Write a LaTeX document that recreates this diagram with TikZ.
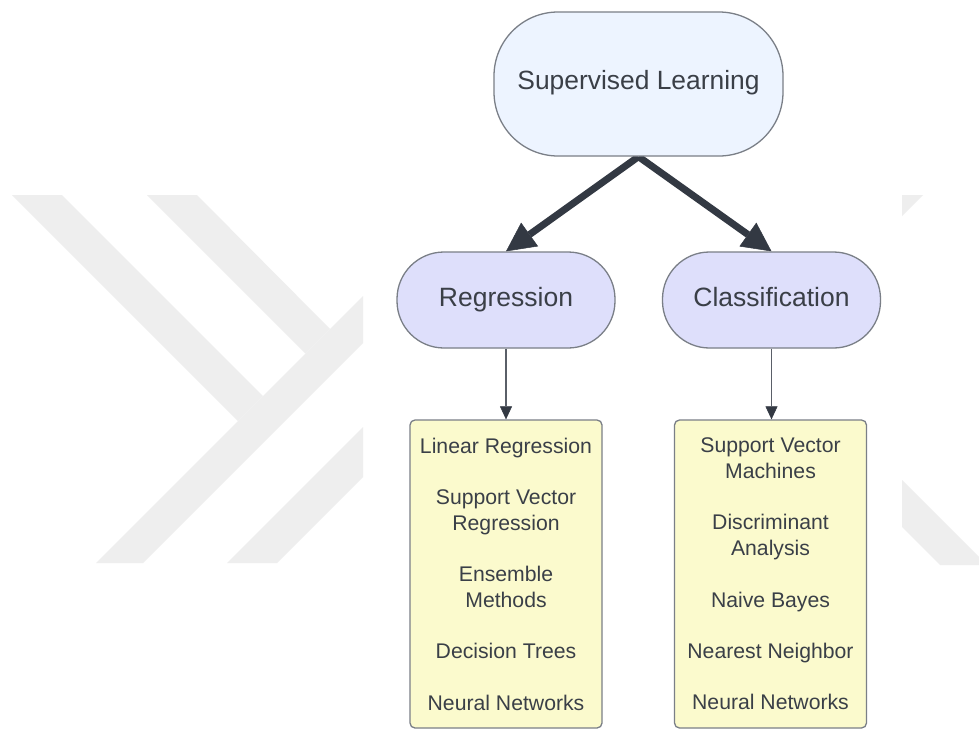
\documentclass[tikz,border=0pt]{standalone}
\usepackage{fontspec}
\setmainfont{Liberation Sans}
\usetikzlibrary{arrows.meta}
\pgfdeclarelayer{back}
\pgfsetlayers{back,main}

\definecolor{wmgray}{RGB}{238,238,238}
\definecolor{rootfill}{RGB}{237,244,255}
\definecolor{catfill}{RGB}{222,223,251}
\definecolor{listfill}{RGB}{251,250,205}
\definecolor{edgegray}{RGB}{122,127,135}
\definecolor{inkdark}{RGB}{51,57,67}
\definecolor{textgray}{RGB}{58,63,71}
\definecolor{stemgray}{RGB}{90,95,104}

\tikzset{
  rootbox/.style={draw=edgegray, line width=1.3pt, fill=rootfill,
    rounded corners=64pt, minimum width=289pt, minimum height=144pt,
    inner sep=0pt, text height=18pt, text depth=8pt, text=textgray,
    font=\fontsize{26.4}{30}\selectfont},
  catbox/.style={draw=edgegray, line width=1.3pt, fill=catfill,
    rounded corners=47pt, minimum width=218pt, minimum height=96pt,
    inner sep=0pt, text height=18pt, text depth=6pt, text=textgray,
    font=\fontsize{26.5}{30}\selectfont},
  listbox/.style={draw=edgegray, line width=1.3pt, fill=listfill,
    rounded corners=5pt, minimum width=192pt, minimum height=308pt,
    inner sep=0pt, align=center, text=textgray,
    font=\fontsize{21.2}{25.7}\selectfont},
  bigarrow/.style={draw=inkdark, line width=7pt,
    -{Triangle[length=29pt,width=29pt,line width=0.5pt]}},
  thinarrow/.style={draw=stemgray, line width=1.3pt,
    -{Triangle[length=13pt,width=12pt,line width=0.5pt,fill=inkdark,color=inkdark]}},
  wmark/.style={fill=wmgray, draw=none}
}

\begin{document}
\begin{tikzpicture}[x=1pt,y=-1pt]
\useasboundingbox (0,0) rectangle (979,731);

% background chevron logo
\begin{pgfonlayer}{back}
  \fill[white] (0,0) rectangle (979,731);
  \fill[wmark] (12,195) -- (62,195) -- (263,396) -- (238,421) -- cycle;
  \fill[wmark] (96,563) -- (143,563) -- (363,343) -- (363,296) -- cycle;
  \fill[wmark] (147,195) -- (197,195) -- (330,329) -- (305.5,353.5) -- cycle;
  \fill[wmark] (227,563) -- (277,563) -- (363,477) -- (363,427) -- cycle;
  \fill[wmark] (902,195) -- (923,195) -- (902,216) -- cycle;
  \fill[wmark] (902,480) -- (979,557) -- (979,565) -- (940,565) -- (902,527) -- cycle;
\end{pgfonlayer}

% tree nodes
\node[rootbox] (sup) at (638.5,84) {Supervised Learning};
\node[catbox] (reg) at (506,300) {Regression};
\node[catbox] (cls) at (771.5,300) {Classification};

\node[listbox] (reglist) at (506,574)
  {Linear Regression\\[25.7pt]
   Support Vector\\Regression\\[25.7pt]
   Ensemble\\Methods\\[25.7pt]
   Decision Trees\\[25.7pt]
   Neural Networks};
\node[listbox] (clslist) at (770.5,574)
  {Support Vector\\Machines\\[25.7pt]
   Discriminant\\Analysis\\[25.7pt]
   Naive Bayes\\[25.7pt]
   Nearest Neighbor\\[25.7pt]
   Neural Networks};

% connectors
\begin{pgfonlayer}{back}
  \draw[bigarrow] (sup.south) -- (reg.north);
  \draw[bigarrow] (sup.south) -- (cls.north);
\end{pgfonlayer}
\draw[thinarrow] (reg.south) -- (reglist.north);
\draw[thinarrow] (cls.south) -- (clslist.north -| cls.south);
\end{tikzpicture}
\end{document}
